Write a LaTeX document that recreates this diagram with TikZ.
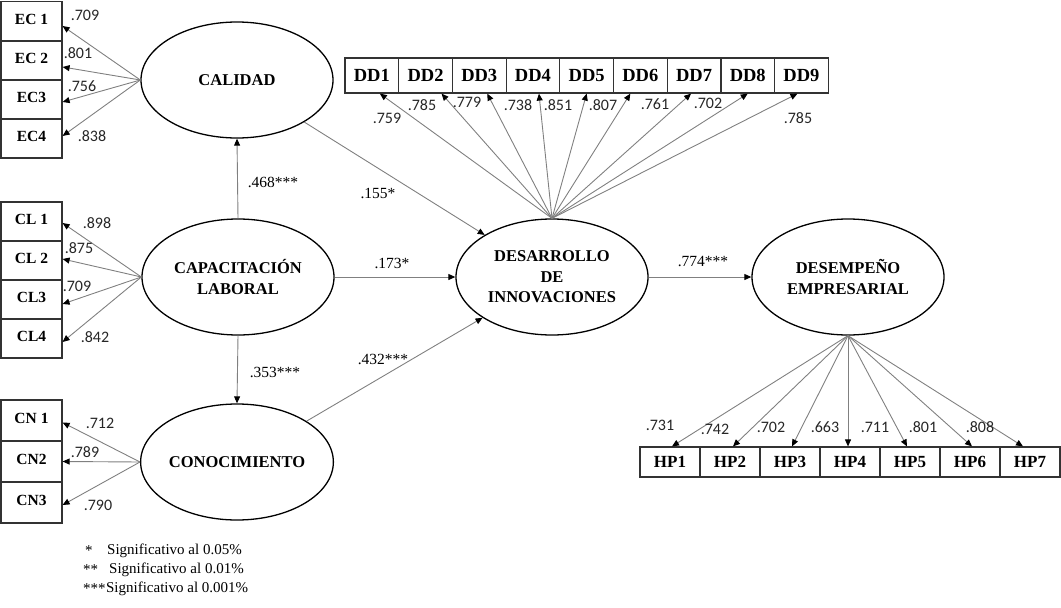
\documentclass[tikz,border=0pt]{standalone}
\usepackage{fontspec}
\setmainfont{Liberation Serif}
\newfontfamily\numfont{Carlito}
\usetikzlibrary{shapes.geometric,arrows.meta,calc}
\begin{document}
\begin{tikzpicture}[x=1pt,y=-1pt,
  lat/.style={draw=black,line width=1.3pt,ellipse,minimum width=192pt,minimum height=116pt,inner sep=0pt,font=\fontsize{16.5}{20.5}\selectfont\bfseries,align=center},
  obs/.style={draw=black!80,line width=1.2pt,rectangle,inner sep=0pt},
  lbox/.style={obs,minimum width=61pt,text height=11pt,text depth=5pt,font=\fontsize{15.5}{18}\selectfont\bfseries},
  ddbox/.style={obs,minimum width=53.7pt,minimum height=35pt,font=\fontsize{18.5}{20}\selectfont\bfseries},
  hpbox/.style={obs,minimum width=60pt,minimum height=30pt,font=\fontsize{17}{20}\selectfont\bfseries},
  arr/.style={draw=black!50,line width=0.9pt,-{Triangle[length=7pt,width=6pt,color=black]}},
  ld/.style={font=\numfont\fontsize{16}{18}\selectfont,text=black!85,inner sep=0pt},
  pc/.style={font=\fontsize{15.5}{18}\selectfont,inner sep=0pt},
  lg/.style={font=\fontsize{15}{18}\selectfont,inner sep=0pt,anchor=west},
]
\useasboundingbox (0,0) rectangle (1061,608);

% latent variables
\node[lat] (CAL) at (237,80) {CALIDAD};
\node[lat] (CAP) at (238,277) {CAPACITACIÓN\\LABORAL};
\node[lat] (CON) at (237,462) {CONOCIMIENTO};
\node[lat] (DES) at (552,277) {DESARROLLO\\DE\\INNOVACIONES};
\node[lat] (DEM) at (848,277) {DESEMPEÑO\\EMPRESARIAL};

% left indicators
\node[lbox,minimum height=39pt] (EC1) at (31.5,21) {EC 1};
\node[lbox,minimum height=39pt] (EC2) at (31.5,60.5) {EC 2};
\node[lbox,minimum height=39pt] (EC3) at (31.5,99.5) {EC3};
\node[lbox,minimum height=39pt] (EC4) at (31.5,138.5) {EC4};

\node[lbox,minimum height=39pt] (CL1) at (31.5,221.5) {CL 1};
\node[lbox,minimum height=39pt] (CL2) at (31.5,260.5) {CL 2};
\node[lbox,minimum height=39pt] (CL3) at (31.5,299.5) {CL3};
\node[lbox,minimum height=39pt] (CL4) at (31.5,338.5) {CL4};

\node[lbox,minimum height=41pt] (CN1) at (31.5,420.5) {CN 1};
\node[lbox,minimum height=41pt] (CN2) at (31.5,461.5) {CN2};
\node[lbox,minimum height=41pt] (CN3) at (31.5,502.5) {CN3};

% DD indicators
\foreach \i in {1,...,9}
  \node[ddbox] (DD\i) at ({345+53.7*(\i-0.5)},75.5) {DD\i};

% HP indicators
\foreach \i in {1,...,7}
  \node[hpbox] (HP\i) at ({640+60*(\i-0.5)},462) {HP\i};

% loadings left
\foreach \n/\d in {EC1/5,EC2/6.5,EC3/2.5,EC4/-2.5}
  \draw[arr] (CAL.west) -- ($(\n.east)+(0,\d)$);
\foreach \n/\d in {CL1/1.5,CL2/-1.5,CL3/4.5,CL4/3.5}
  \draw[arr] (CAP.west) -- ($(\n.east)+(0,\d)$);
\foreach \n/\d in {CN1/2,CN2/0,CN3/2.5}
  \draw[arr] (CON.west) -- ($(\n.east)+(0,\d)$);

% loadings DD
\foreach \i/\s in {1/8,2/16,3/8,4/6,5/0,6/-10,7/-3,8/0,9/-4}
  \draw[arr] (DES.north) -- ($(DD\i.south)+(\s,0)$);

% loadings HP
\foreach \i/\s in {1/2,2/3,3/2,4/-2,5/-3,6/2,7/-7}
  \draw[arr] (DEM.south) -- ($(HP\i.north)+(\s,0)$);

% structural paths
\draw[arr] (CAP.north) -- (CAL.south);
\draw[arr] (CAP.south) -- (CON.north);
\draw[arr] (CAL) -- (DES);
\draw[arr] (CAP.east) -- (DES.west);
\draw[arr] (CON) -- (DES);
\draw[arr] (DES.east) -- (DEM.west);

% loading labels left
\node[ld] (lec1) at (85,15) {.709};
\node[ld] (lec2) at (78,53) {.801};
\node[ld] (lec3) at (82,86) {.756};
\node[ld] (lec4) at (92,136) {.838};
\node[ld] (lcl1) at (97,223) {.898};
\node[ld] (lcl2) at (79,248) {.875};
\node[ld] (lcl3) at (77,286) {.709};
\node[ld] (lcl4) at (95,337) {.842};
\node[ld] (lcn1) at (100,423) {.712};
\node[ld] (lcn2) at (85,452) {.789};
\node[ld] (lcn3) at (98,505) {.790};

% loading labels DD
\node[ld] (ldd1) at (387,118) {.759};
\node[ld] (ldd2) at (422,105) {.785};
\node[ld] (ldd3) at (467,102) {.779};
\node[ld] (ldd4) at (518,105) {.738};
\node[ld] (ldd5) at (558,105) {.851};
\node[ld] (ldd6) at (603,105) {.807};
\node[ld] (ldd7) at (655,104) {.761};
\node[ld] (ldd8) at (708,103) {.702};
\node[ld] (ldd9) at (798,118) {.785};

% loading labels HP
\node[ld] (lhp1) at (660,425) {.731};
\node[ld] (lhp2) at (715,429) {.742};
\node[ld] (lhp3) at (771,427) {.702};
\node[ld] (lhp4) at (825,427) {.663};
\node[ld] (lhp5) at (875,427) {.711};
\node[ld] (lhp6) at (923,427) {.801};
\node[ld] (lhp7) at (980,427) {.808};

% path coefficients
\node[pc] (p1) at (273,182) {.468***};
\node[pc] (p2) at (275,372) {.353***};
\node[pc] (p3) at (378,193) {.155*};
\node[pc] (p4) at (392,263) {.173*};
\node[pc] (p5) at (383,359) {.432***};
\node[pc] (p6) at (703,262) {.774***};

% legend
\node[lg] (s1) at (85,551) {*};
\node[lg] (t1) at (107,551) {Significativo al 0.05\%};
\node[lg] (s2) at (83,570) {**};
\node[lg] (t2) at (109,570) {Significativo al 0.01\%};
\node[lg] (s3) at (83,589) {***};
\node[lg] (t3) at (s3.east) {Significativo al 0.001\%};
\end{tikzpicture}
\end{document}
